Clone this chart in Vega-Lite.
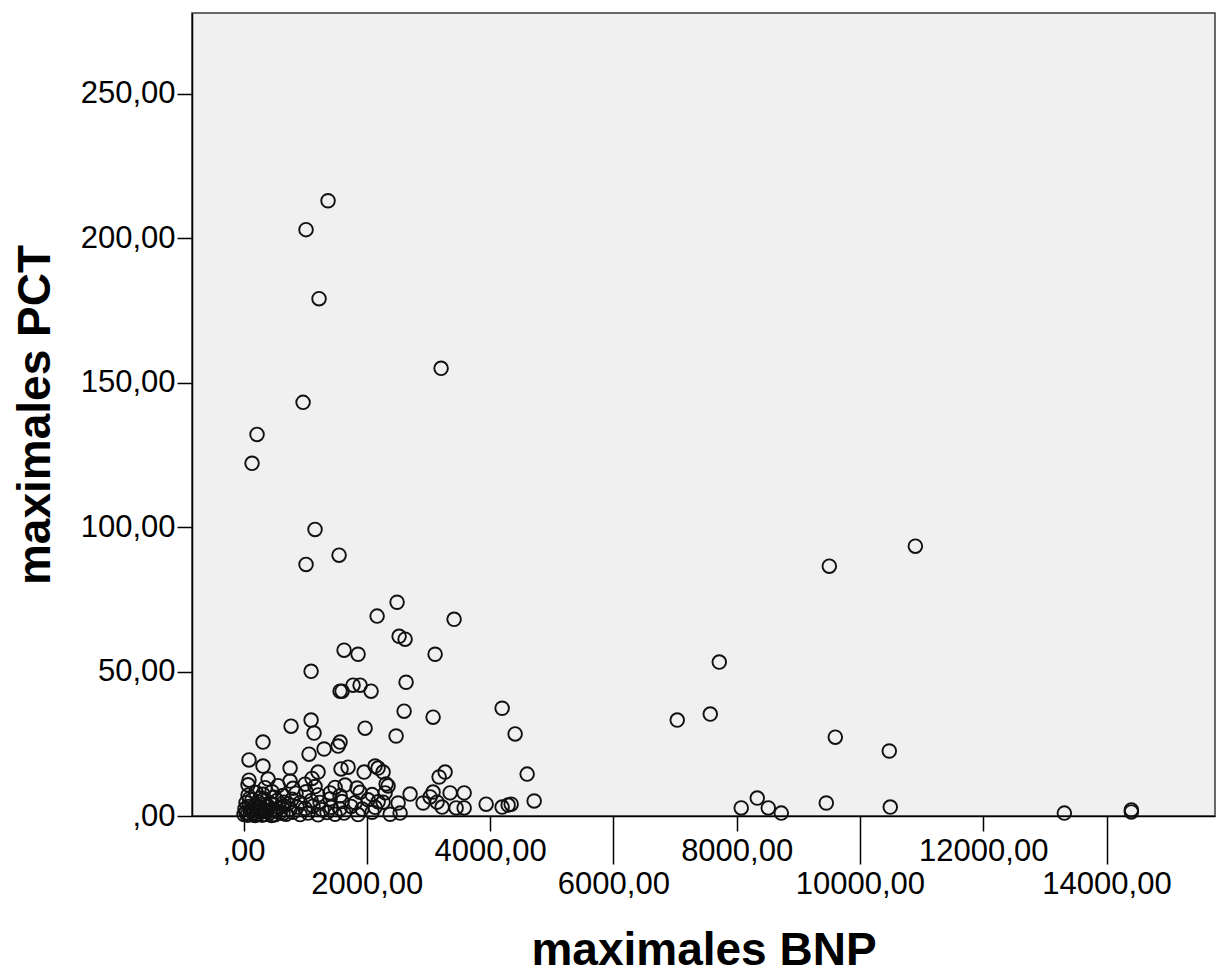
{
  "$schema": "https://vega.github.io/schema/vega-lite/v6.json",
  "autosize": {"type": "none"},
  "padding": {"left": 192, "top": 13, "right": 2, "bottom": 157},
  "width": 1023,
  "height": 803,
  "background": "white",
  "config": {
    "view": {"fill": "#f0f0f0", "stroke": "#3a3a3a", "strokeWidth": 1.5},
    "axis": {
      "labelFont": "Liberation Sans",
      "labelFontSize": 31,
      "labelColor": "black",
      "titleFont": "Liberation Sans",
      "titleFontSize": 46,
      "titleFontWeight": "bold",
      "titleColor": "black",
      "domainColor": "black",
      "domainWidth": 1.5,
      "tickColor": "black",
      "tickWidth": 1.5,
      "grid": false
    }
  },
  "data": {
    "values": [
      {"BNP": 1371, "PCT": 213.0}, {"BNP": 1014, "PCT": 203.0}, {"BNP": 1225, "PCT": 179.1},
      {"BNP": 3205, "PCT": 155.0}, {"BNP": 966, "PCT": 143.2}, {"BNP": 219, "PCT": 132.1},
      {"BNP": 138, "PCT": 122.1}, {"BNP": 1160, "PCT": 99.2}, {"BNP": 1014, "PCT": 87.1},
      {"BNP": 1550, "PCT": 90.3}, {"BNP": 2491, "PCT": 74.0}, {"BNP": 2167, "PCT": 69.2},
      {"BNP": 3416, "PCT": 68.1}, {"BNP": 2524, "PCT": 62.2}, {"BNP": 2621, "PCT": 61.2},
      {"BNP": 1631, "PCT": 57.4}, {"BNP": 1858, "PCT": 56.0}, {"BNP": 3108, "PCT": 56.0},
      {"BNP": 1096, "PCT": 50.1}, {"BNP": 2637, "PCT": 46.3}, {"BNP": 1566, "PCT": 43.2},
      {"BNP": 1599, "PCT": 43.2}, {"BNP": 1777, "PCT": 45.3}, {"BNP": 1891, "PCT": 45.3},
      {"BNP": 2069, "PCT": 43.2}, {"BNP": 2605, "PCT": 36.3}, {"BNP": 3075, "PCT": 34.2},
      {"BNP": 4195, "PCT": 37.3}, {"BNP": 771, "PCT": 31.1}, {"BNP": 1096, "PCT": 33.2},
      {"BNP": 1144, "PCT": 28.7}, {"BNP": 1972, "PCT": 30.4}, {"BNP": 2475, "PCT": 27.7},
      {"BNP": 4406, "PCT": 28.4}, {"BNP": 316, "PCT": 25.6}, {"BNP": 1534, "PCT": 24.2},
      {"BNP": 1566, "PCT": 25.6}, {"BNP": 1307, "PCT": 23.2}, {"BNP": 1063, "PCT": 21.4},
      {"BNP": 89, "PCT": 19.4}, {"BNP": 316, "PCT": 17.3}, {"BNP": 755, "PCT": 16.6},
      {"BNP": 1209, "PCT": 15.2}, {"BNP": 1582, "PCT": 16.3}, {"BNP": 1696, "PCT": 16.9},
      {"BNP": 1956, "PCT": 15.2}, {"BNP": 2134, "PCT": 17.3}, {"BNP": 2183, "PCT": 16.6},
      {"BNP": 3270, "PCT": 15.2}, {"BNP": 3173, "PCT": 13.5}, {"BNP": 4601, "PCT": 14.5},
      {"BNP": 2264, "PCT": 15.2},
      {"BNP": 7036, "PCT": 33.2}, {"BNP": 7572, "PCT": 35.3}, {"BNP": 7718, "PCT": 53.3},
      {"BNP": 9503, "PCT": 86.5}, {"BNP": 10899, "PCT": 93.4}, {"BNP": 9600, "PCT": 27.3},
      {"BNP": 10476, "PCT": 22.5}, {"BNP": 8074, "PCT": 2.8}, {"BNP": 8334, "PCT": 6.2},
      {"BNP": 8513, "PCT": 2.8}, {"BNP": 8724, "PCT": 1.0}, {"BNP": 9454, "PCT": 4.5},
      {"BNP": 10492, "PCT": 3.1}, {"BNP": 13316, "PCT": 1.0}, {"BNP": 14403, "PCT": 2.1},
      {"BNP": 14403, "PCT": 1.4},
      {"BNP": 2297, "PCT": 8.0}, {"BNP": 2702, "PCT": 7.6}, {"BNP": 2508, "PCT": 4.5},
      {"BNP": 2913, "PCT": 4.5}, {"BNP": 3027, "PCT": 6.6}, {"BNP": 3075, "PCT": 8.3},
      {"BNP": 3351, "PCT": 8.0}, {"BNP": 3579, "PCT": 8.0}, {"BNP": 3140, "PCT": 4.8},
      {"BNP": 3222, "PCT": 3.1}, {"BNP": 3449, "PCT": 2.8}, {"BNP": 3579, "PCT": 2.8},
      {"BNP": 3936, "PCT": 4.1}, {"BNP": 4195, "PCT": 3.1}, {"BNP": 4293, "PCT": 3.8},
      {"BNP": 4342, "PCT": 4.1}, {"BNP": 4715, "PCT": 5.2}, {"BNP": 2264, "PCT": 4.8},
      {"BNP": 2313, "PCT": 11.1},
      {"BNP": 8, "PCT": 0.5}, {"BNP": 41, "PCT": 1.2}, {"BNP": 105, "PCT": 0.4},
      {"BNP": 154, "PCT": 1.0}, {"BNP": 219, "PCT": 0.6}, {"BNP": 284, "PCT": 1.3},
      {"BNP": 349, "PCT": 0.5}, {"BNP": 430, "PCT": 1.1}, {"BNP": 511, "PCT": 0.4},
      {"BNP": 592, "PCT": 1.2}, {"BNP": 690, "PCT": 0.6}, {"BNP": 803, "PCT": 1.3},
      {"BNP": 917, "PCT": 0.5}, {"BNP": 1047, "PCT": 1.0}, {"BNP": 1209, "PCT": 0.4},
      {"BNP": 1355, "PCT": 1.2}, {"BNP": 1485, "PCT": 0.6}, {"BNP": 1631, "PCT": 1.0},
      {"BNP": 1858, "PCT": 0.5}, {"BNP": 2086, "PCT": 1.3}, {"BNP": 2378, "PCT": 0.6},
      {"BNP": 2540, "PCT": 1.0},
      {"BNP": 24, "PCT": 2.5}, {"BNP": 89, "PCT": 3.3}, {"BNP": 170, "PCT": 2.2},
      {"BNP": 252, "PCT": 3.0}, {"BNP": 316, "PCT": 2.4}, {"BNP": 398, "PCT": 3.4},
      {"BNP": 479, "PCT": 2.1}, {"BNP": 576, "PCT": 2.9}, {"BNP": 657, "PCT": 3.5},
      {"BNP": 755, "PCT": 2.3}, {"BNP": 868, "PCT": 3.1}, {"BNP": 998, "PCT": 2.6},
      {"BNP": 1128, "PCT": 3.4}, {"BNP": 1274, "PCT": 2.2}, {"BNP": 1420, "PCT": 3.0},
      {"BNP": 1566, "PCT": 2.5}, {"BNP": 1745, "PCT": 3.3}, {"BNP": 1923, "PCT": 2.4},
      {"BNP": 2134, "PCT": 3.0},
      {"BNP": 41, "PCT": 4.6}, {"BNP": 138, "PCT": 5.6}, {"BNP": 235, "PCT": 4.9},
      {"BNP": 333, "PCT": 5.9}, {"BNP": 430, "PCT": 4.5}, {"BNP": 544, "PCT": 5.4},
      {"BNP": 657, "PCT": 4.8}, {"BNP": 787, "PCT": 5.8}, {"BNP": 917, "PCT": 4.6},
      {"BNP": 1096, "PCT": 5.3}, {"BNP": 1242, "PCT": 4.7}, {"BNP": 1404, "PCT": 5.9},
      {"BNP": 1599, "PCT": 5.0}, {"BNP": 1810, "PCT": 4.6}, {"BNP": 2021, "PCT": 5.6},
      {"BNP": 2183, "PCT": 4.9},
      {"BNP": 73, "PCT": 7.2}, {"BNP": 203, "PCT": 8.1}, {"BNP": 316, "PCT": 7.5},
      {"BNP": 463, "PCT": 8.4}, {"BNP": 641, "PCT": 7.1}, {"BNP": 852, "PCT": 7.9},
      {"BNP": 1014, "PCT": 8.4}, {"BNP": 1209, "PCT": 7.3}, {"BNP": 1404, "PCT": 8.0},
      {"BNP": 1566, "PCT": 7.0}, {"BNP": 1891, "PCT": 8.2}, {"BNP": 2086, "PCT": 7.4},
      {"BNP": 73, "PCT": 10.8}, {"BNP": 349, "PCT": 9.8}, {"BNP": 560, "PCT": 10.5},
      {"BNP": 803, "PCT": 9.6}, {"BNP": 998, "PCT": 11.0}, {"BNP": 1160, "PCT": 10.2},
      {"BNP": 1485, "PCT": 9.9}, {"BNP": 1647, "PCT": 10.7}, {"BNP": 1842, "PCT": 9.7},
      {"BNP": 2345, "PCT": 10.4},
      {"BNP": 89, "PCT": 12.4}, {"BNP": 398, "PCT": 12.8}, {"BNP": 755, "PCT": 12.1},
      {"BNP": 1112, "PCT": 13.0},
      {"BNP": 60, "PCT": 0.3}, {"BNP": 122, "PCT": 1.8}, {"BNP": 187, "PCT": 0.2},
      {"BNP": 260, "PCT": 1.7}, {"BNP": 300, "PCT": 0.3}, {"BNP": 380, "PCT": 2.0},
      {"BNP": 455, "PCT": 0.2}, {"BNP": 530, "PCT": 1.8}, {"BNP": 640, "PCT": 0.9},
      {"BNP": 190, "PCT": 3.9}, {"BNP": 270, "PCT": 6.2}, {"BNP": 360, "PCT": 4.0},
      {"BNP": 500, "PCT": 6.5}, {"BNP": 95, "PCT": 6.0}, {"BNP": 720, "PCT": 4.2}
    ]
  },
  "mark": {"type": "point", "shape": "circle", "filled": false, "stroke": "#111111", "strokeWidth": 1.9, "size": 185, "opacity": 1},
  "encoding": {
    "x": {
      "field": "BNP", "type": "quantitative",
      "scale": {"domain": [-836, 15760], "nice": false, "zero": false},
      "axis": {
        "title": "maximales BNP",
        "values": [0, 2000, 4000, 6000, 8000, 10000, 12000, 14000],
        "labelExpr": "datum.value == 0 ? ',00' : format(datum.value, 'd') + ',00'",
        "tickSize": {"condition": {"test": "datum.value % 4000 == 0", "value": 15}, "value": 48},
        "labelPadding": 5,
        "labelOverlap": false,
        "labelFlush": false,
        "titlePadding": 29
      }
    },
    "y": {
      "field": "PCT", "type": "quantitative",
      "scale": {"domain": [0, 278], "nice": false, "zero": false},
      "axis": {
        "title": "maximales PCT",
        "values": [0, 50, 100, 150, 200, 250],
        "labelExpr": "datum.value == 0 ? ',00' : format(datum.value, 'd') + ',00'",
        "tickSize": 15,
        "labelPadding": 2,
        "labelOverlap": false,
        "labelFlush": false,
        "titlePadding": 21
      }
    }
  }
}
